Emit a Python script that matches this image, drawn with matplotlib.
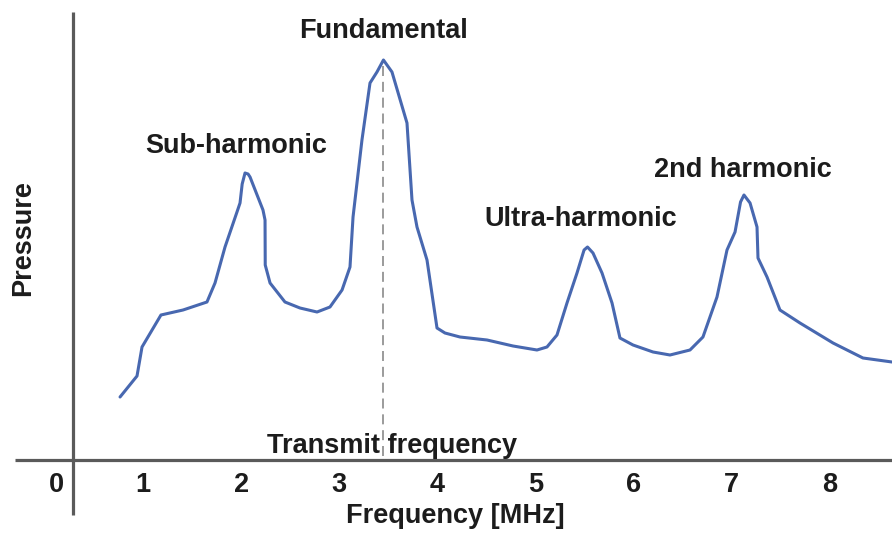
import matplotlib
matplotlib.use("Agg")
import matplotlib.pyplot as plt

# Frequency response of a contrast-agent echo (arbitrary pressure units)
freq_mhz = [0.765, 0.938, 0.989, 1.182, 1.407, 1.651, 1.733, 1.835, 1.957, 1.988,
            2.010, 2.039, 2.070, 2.090, 2.222, 2.243, 2.245, 2.294, 2.446, 2.599,
            2.773, 2.905, 3.028, 3.109, 3.140, 3.231, 3.313, 3.384, 3.450, 3.537,
            3.690, 3.741, 3.792, 3.894, 3.996, 4.077, 4.230, 4.506, 4.771, 5.015,
            5.117, 5.219, 5.321, 5.423, 5.495, 5.530, 5.586, 5.678, 5.780, 5.861,
            5.994, 6.198, 6.371, 6.575, 6.707, 6.850, 6.952, 7.034, 7.090, 7.125,
            7.187, 7.258, 7.268, 7.360, 7.492, 7.696, 8.033, 8.338, 8.634]
pressure = [1.575, 2.10, 2.825, 3.625, 3.75, 3.95, 4.425, 5.325, 6.20, 6.425,
            6.90, 7.175, 7.15, 7.075, 6.25, 6.00, 4.875, 4.425, 3.95, 3.80,
            3.70, 3.825, 4.25, 4.825, 6.075, 8.00, 9.425, 9.70, 10.00, 9.70,
            8.425, 6.50, 5.825, 5.00, 3.30, 3.175, 3.075, 3.00, 2.85, 2.75,
            2.825, 3.125, 3.925, 4.675, 5.25, 5.325, 5.175, 4.675, 3.925, 3.05,
            2.875, 2.70, 2.625, 2.75, 3.075, 4.075, 5.25, 5.70, 6.45, 6.625,
            6.425, 5.825, 5.05, 4.575, 3.75, 3.425, 2.925, 2.55, 2.45]

transmit_freq = 3.45
tick_positions = [0.12, 1, 2, 3, 4, 5, 6, 7, 8]
tick_labels = ["0", "1", "2", "3", "4", "5", "6", "7", "8"]

peak_labels = ["Fundamental", "Sub-harmonic", "Ultra-harmonic", "2nd harmonic"]
peak_label_x = [3.446, 1.947, 5.464, 7.115]
peak_label_y = [10.55, 7.675, 5.85, 7.075]

plt.rcParams["font.family"] = ["Liberation Sans", "DejaVu Sans"]
TXT = "#1c1c1c"
AXC = "#5a5a5a"
FS = 19.5

fig = plt.figure(figsize=(8.92, 5.35), dpi=100)
ax = fig.add_axes([0, 0, 1, 1])
ax.set_xlim(-0.4587, 8.634)
ax.set_ylim(-1.875, 11.5)
ax.axis("off")

# axes drawn as plain lines crossing near the origin
ax.plot([-0.306, 8.634], [0, 0], color=AXC, lw=2.3, solid_capstyle="butt")
ax.plot([0.285, 0.285], [-1.375, 11.2], color=AXC, lw=2.3, solid_capstyle="butt")

# transmit frequency marker
ax.plot([transmit_freq, transmit_freq], [0.1, 9.85], color="#8a8a8a", lw=1.2,
        linestyle=(0, (6, 3.5)))

# spectrum
ax.plot(freq_mhz, pressure, color="#4868b0", lw=2.2, solid_joinstyle="round",
        solid_capstyle="round")

for lbl, x, y in zip(peak_labels, peak_label_x, peak_label_y):
    ax.text(x, y, lbl, ha="center", va="baseline", fontsize=FS,
            fontweight="bold", color=TXT)

ax.text(3.537, 0.175, "Transmit frequency", ha="center", va="baseline",
        fontsize=FS, fontweight="bold", color=TXT)

for x, lbl in zip(tick_positions, tick_labels):
    ax.text(x, -0.8, lbl, ha="center", va="baseline", fontsize=FS,
            fontweight="bold", color=TXT)

ax.text(4.18, -1.575, "Frequency [MHz]", ha="center", va="baseline",
        fontsize=FS, fontweight="bold", color=TXT)
ax.text(-0.224, 5.55, "Pressure", ha="center", va="center", rotation=90,
        fontsize=FS, fontweight="bold", color=TXT)

fig.savefig("out.png", dpi=100)
